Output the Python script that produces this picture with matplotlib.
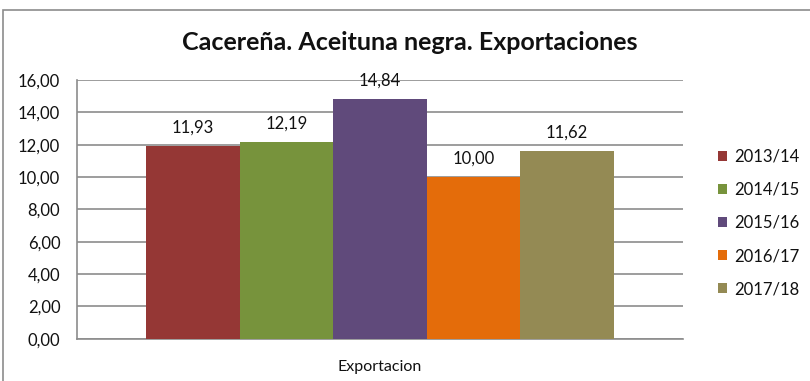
import matplotlib.pyplot as plt
from matplotlib.patches import Rectangle, Patch

plt.rcParams['font.family'] = ['Lato', 'DejaVu Sans']

# ── Data ──────────────────────────────────────────────
category = 'Exportacion'
seasons = ['2013/14', '2014/15', '2015/16', '2016/17', '2017/18']
values = [11.93, 12.19, 14.84, 10.00, 11.62]
colors = ['#953735', '#77933C', '#604A7B', '#E46C0A', '#948A54']
yticks = [0, 2, 4, 6, 8, 10, 12, 14, 16]

GRID = '#8C8C8C'
TXT = '#111111'


def fmt(v):
    return f'{v:.2f}'.replace('.', ',')


fig = plt.figure(figsize=(8.1, 3.81), dpi=100)
fig.patch.set_facecolor('white')

# outer chart-area border (only left and top edges visible in the crop)
fig.add_artist(Rectangle((3.5 / 810, -0.2), 1.2, 1.2 - 9.5 / 381,
                         transform=fig.transFigure, fill=False,
                         ec=GRID, lw=1.2))

ax = fig.add_axes([77 / 810, 1 - 338.7 / 381, 606 / 810, 258.7 / 381])

w = 93.4 / 606
n = len(values)
for i, (s, v, c) in enumerate(zip(seasons, values, colors)):
    x = (i - (n - 1) / 2) * w
    ax.bar(x, v, width=w, color=c, label=s, zorder=3)
    ax.annotate(fmt(v), (x, v), xytext=(0, 7.5), textcoords='offset points',
                ha='center', va='bottom', fontsize=12, color=TXT)

ax.set_xlim(-0.5, 0.5)
ax.set_ylim(0, 16)
ax.set_yticks(yticks)
ax.set_yticklabels([fmt(t) for t in yticks], fontsize=12, color=TXT)
ax.set_xticks([0])
ax.set_xticklabels([category], fontsize=11.5, color=TXT)
ax.tick_params(axis='x', length=0, pad=15)
ax.tick_params(axis='y', length=0, pad=12)
ax.yaxis.grid(True, color=GRID, lw=1.2, zorder=0)
ax.set_axisbelow(True)
for side in ['top', 'right']:
    ax.spines[side].set_visible(False)
for side in ['left', 'bottom']:
    ax.spines[side].set_color(GRID)
    ax.spines[side].set_linewidth(1.2)

fig.text(409.5 / 810, 1 - 42 / 381, 'Cacereña. Aceituna negra. Exportaciones',
         ha='center', va='center', fontsize=18, fontweight='bold', color=TXT)

handles = [Patch(fc=c, ec='none') for c in colors]
fig.legend(handles, seasons, loc='center left',
           bbox_to_anchor=(703 / 810, 1 - 223 / 381), frameon=False,
           fontsize=12, handlelength=0.55, handleheight=0.55,
           handletextpad=0.4, labelspacing=1.03, labelcolor=TXT)

fig.savefig('out.png', dpi=100)
